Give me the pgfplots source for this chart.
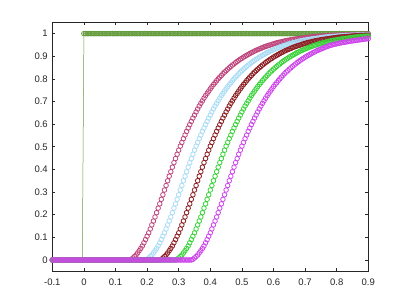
\documentclass[border=0pt]{standalone}
\usepackage{pgfplots}
\usepackage{pgfplotstable}
\pgfplotsset{compat=1.18}
\usepackage{fontspec}
\setmainfont{Liberation Sans}
\definecolor{axgray}{RGB}{38,38,38}
\definecolor{cstep}{RGB}{100,155,60}
\definecolor{cpink}{RGB}{190,70,125}
\definecolor{cblue}{RGB}{170,220,245}
\definecolor{cred}{RGB}{140,30,35}
\definecolor{cgreen}{RGB}{60,210,60}
\definecolor{cpurple}{RGB}{205,70,235}
\pgfplotstableread{
x g p b r n u
-0.100 0 0 0 0 0 0
-0.095 0 0 0 0 0 0
-0.090 0 0 0 0 0 0
-0.085 0 0 0 0 0 0
-0.080 0 0 0 0 0 0
-0.075 0 0 0 0 0 0
-0.070 0 0 0 0 0 0
-0.065 0 0 0 0 0 0
-0.060 0 0 0 0 0 0
-0.055 0 0 0 0 0 0
-0.050 0 0 0 0 0 0
-0.045 0 0 0 0 0 0
-0.040 0 0 0 0 0 0
-0.035 0 0 0 0 0 0
-0.030 0 0 0 0 0 0
-0.025 0 0 0 0 0 0
-0.020 0 0 0 0 0 0
-0.015 0 0 0 0 0 0
-0.010 0 0 0 0 0 0
-0.005 0 0 0 0 0 0
0.000 1 0 0 0 0 0
0.005 1 0 0 0 0 0
0.010 1 0 0 0 0 0
0.015 1 0 0 0 0 0
0.020 1 0 0 0 0 0
0.025 1 0 0 0 0 0
0.030 1 0 0 0 0 0
0.035 1 0 0 0 0 0
0.040 1 0 0 0 0 0
0.045 1 0 0 0 0 0
0.050 1 0 0 0 0 0
0.055 1 0 0 0 0 0
0.060 1 0 0 0 0 0
0.065 1 0 0 0 0 0
0.070 1 0 0 0 0 0
0.075 1 0 0 0 0 0
0.080 1 0 0 0 0 0
0.085 1 0 0 0 0 0
0.090 1 0 0 0 0 0
0.095 1 0 0 0 0 0
0.100 1 0 0 0 0 0
0.105 1 0 0 0 0 0
0.110 1 0 0 0 0 0
0.115 1 0 0 0 0 0
0.120 1 0 0 0 0 0
0.125 1 0 0 0 0 0
0.130 1 0 0 0 0 0
0.135 1 0 0 0 0 0
0.140 1 0 0 0 0 0
0.145 1 0 0 0 0 0
0.150 1 0.003 0 0 0 0
0.155 1 0.009 0 0 0 0
0.160 1 0.015 0 0 0 0
0.165 1 0.022 0 0 0 0
0.170 1 0.031 0 0 0 0
0.175 1 0.041 0 0 0 0
0.180 1 0.051 0 0 0 0
0.185 1 0.062 0 0 0 0
0.190 1 0.076 0 0 0 0
0.195 1 0.090 0 0 0 0
0.200 1 0.105 0.003 0 0 0
0.205 1 0.120 0.009 0 0 0
0.210 1 0.137 0.015 0 0 0
0.215 1 0.155 0.022 0 0 0
0.220 1 0.172 0.031 0 0 0
0.225 1 0.190 0.041 0 0 0
0.230 1 0.209 0.051 0 0 0
0.235 1 0.229 0.062 0 0 0
0.240 1 0.248 0.076 0 0 0
0.245 1 0.268 0.090 0.003 0 0
0.250 1 0.288 0.105 0.009 0 0
0.255 1 0.309 0.120 0.015 0 0
0.260 1 0.329 0.137 0.022 0 0
0.265 1 0.350 0.155 0.031 0 0
0.270 1 0.370 0.172 0.041 0 0
0.275 1 0.390 0.190 0.051 0 0
0.280 1 0.410 0.209 0.062 0 0
0.285 1 0.430 0.229 0.076 0 0
0.290 1 0.448 0.248 0.090 0 0
0.295 1 0.467 0.268 0.105 0.003 0
0.300 1 0.485 0.288 0.120 0.009 0
0.305 1 0.503 0.309 0.137 0.015 0
0.310 1 0.519 0.329 0.155 0.022 0
0.315 1 0.536 0.350 0.172 0.031 0
0.320 1 0.552 0.370 0.190 0.041 0
0.325 1 0.568 0.390 0.209 0.051 0
0.330 1 0.583 0.410 0.229 0.062 0
0.335 1 0.598 0.430 0.248 0.076 0
0.340 1 0.612 0.448 0.268 0.090 0
0.345 1 0.627 0.467 0.288 0.105 0.003
0.350 1 0.640 0.485 0.309 0.120 0.009
0.355 1 0.654 0.503 0.329 0.137 0.015
0.360 1 0.667 0.519 0.350 0.155 0.022
0.365 1 0.680 0.536 0.370 0.172 0.031
0.370 1 0.692 0.552 0.390 0.190 0.041
0.375 1 0.703 0.568 0.410 0.209 0.051
0.380 1 0.715 0.583 0.430 0.229 0.062
0.385 1 0.726 0.598 0.448 0.248 0.076
0.390 1 0.736 0.612 0.467 0.268 0.090
0.395 1 0.746 0.627 0.485 0.288 0.105
0.400 1 0.756 0.640 0.503 0.309 0.120
0.405 1 0.766 0.654 0.519 0.329 0.137
0.410 1 0.775 0.667 0.536 0.350 0.155
0.415 1 0.783 0.680 0.552 0.370 0.172
0.420 1 0.792 0.692 0.568 0.390 0.190
0.425 1 0.800 0.703 0.583 0.410 0.209
0.430 1 0.808 0.715 0.598 0.430 0.229
0.435 1 0.815 0.726 0.612 0.448 0.248
0.440 1 0.823 0.736 0.627 0.467 0.268
0.445 1 0.830 0.746 0.640 0.485 0.288
0.450 1 0.836 0.756 0.654 0.503 0.309
0.455 1 0.843 0.766 0.667 0.519 0.329
0.460 1 0.849 0.775 0.680 0.536 0.350
0.465 1 0.855 0.783 0.692 0.552 0.370
0.470 1 0.861 0.792 0.703 0.568 0.390
0.475 1 0.866 0.800 0.715 0.583 0.410
0.480 1 0.872 0.808 0.726 0.598 0.430
0.485 1 0.877 0.815 0.736 0.612 0.448
0.490 1 0.882 0.823 0.746 0.627 0.467
0.495 1 0.887 0.830 0.756 0.640 0.485
0.500 1 0.891 0.836 0.766 0.654 0.503
0.505 1 0.896 0.843 0.775 0.667 0.519
0.510 1 0.900 0.849 0.783 0.680 0.536
0.515 1 0.904 0.855 0.792 0.692 0.552
0.520 1 0.908 0.861 0.800 0.703 0.568
0.525 1 0.912 0.866 0.808 0.715 0.583
0.530 1 0.916 0.872 0.815 0.726 0.598
0.535 1 0.919 0.877 0.823 0.736 0.612
0.540 1 0.923 0.882 0.830 0.746 0.627
0.545 1 0.926 0.887 0.836 0.756 0.640
0.550 1 0.929 0.891 0.843 0.766 0.654
0.555 1 0.932 0.896 0.849 0.775 0.667
0.560 1 0.935 0.900 0.855 0.783 0.680
0.565 1 0.938 0.904 0.861 0.792 0.692
0.570 1 0.941 0.908 0.866 0.800 0.703
0.575 1 0.943 0.912 0.872 0.808 0.715
0.580 1 0.946 0.916 0.877 0.815 0.726
0.585 1 0.948 0.919 0.882 0.823 0.736
0.590 1 0.950 0.923 0.887 0.830 0.746
0.595 1 0.953 0.926 0.891 0.836 0.756
0.600 1 0.955 0.929 0.896 0.843 0.766
0.605 1 0.957 0.932 0.900 0.849 0.775
0.610 1 0.959 0.935 0.904 0.855 0.783
0.615 1 0.961 0.938 0.908 0.861 0.792
0.620 1 0.962 0.941 0.912 0.866 0.800
0.625 1 0.964 0.943 0.916 0.872 0.808
0.630 1 0.966 0.946 0.919 0.877 0.815
0.635 1 0.967 0.948 0.923 0.882 0.823
0.640 1 0.969 0.950 0.926 0.887 0.830
0.645 1 0.970 0.953 0.929 0.891 0.836
0.650 1 0.971 0.955 0.932 0.896 0.843
0.655 1 0.973 0.957 0.935 0.900 0.849
0.660 1 0.974 0.959 0.938 0.904 0.855
0.665 1 0.975 0.961 0.941 0.908 0.861
0.670 1 0.976 0.962 0.943 0.912 0.866
0.675 1 0.977 0.964 0.946 0.916 0.872
0.680 1 0.978 0.966 0.948 0.919 0.877
0.685 1 0.979 0.967 0.950 0.923 0.882
0.690 1 0.980 0.969 0.953 0.926 0.887
0.695 1 0.981 0.970 0.955 0.929 0.891
0.700 1 0.982 0.971 0.957 0.932 0.896
0.705 1 0.983 0.973 0.959 0.935 0.900
0.710 1 0.984 0.974 0.961 0.938 0.904
0.715 1 0.985 0.975 0.962 0.941 0.908
0.720 1 0.985 0.976 0.964 0.943 0.912
0.725 1 0.986 0.977 0.966 0.946 0.916
0.730 1 0.987 0.978 0.967 0.948 0.919
0.735 1 0.987 0.979 0.969 0.950 0.923
0.740 1 0.988 0.980 0.970 0.953 0.926
0.745 1 0.988 0.981 0.971 0.955 0.929
0.750 1 0.989 0.982 0.973 0.957 0.932
0.755 1 0.989 0.983 0.974 0.959 0.935
0.760 1 0.990 0.984 0.975 0.961 0.938
0.765 1 0.990 0.985 0.976 0.962 0.941
0.770 1 0.991 0.985 0.977 0.964 0.943
0.775 1 0.991 0.986 0.978 0.966 0.946
0.780 1 0.992 0.987 0.979 0.967 0.948
0.785 1 0.992 0.987 0.980 0.969 0.950
0.790 1 0.992 0.988 0.981 0.970 0.952
0.795 1 0.993 0.988 0.982 0.971 0.954
0.800 1 0.993 0.989 0.983 0.973 0.955
0.805 1 0.993 0.989 0.984 0.974 0.957
0.810 1 0.993 0.990 0.985 0.975 0.958
0.815 1 0.994 0.990 0.985 0.976 0.960
0.820 1 0.994 0.991 0.986 0.977 0.961
0.825 1 0.994 0.991 0.987 0.978 0.962
0.830 1 0.994 0.992 0.987 0.979 0.963
0.835 1 0.995 0.992 0.988 0.980 0.965
0.840 1 0.995 0.992 0.988 0.981 0.966
0.845 1 0.995 0.993 0.989 0.982 0.967
0.850 1 0.995 0.993 0.989 0.983 0.968
0.855 1 0.996 0.993 0.990 0.984 0.969
0.860 1 0.996 0.993 0.990 0.985 0.970
0.865 1 0.996 0.994 0.991 0.985 0.971
0.870 1 0.996 0.994 0.991 0.986 0.972
0.875 1 0.997 0.994 0.992 0.987 0.973
0.880 1 0.997 0.994 0.992 0.987 0.974
0.885 1 0.997 0.995 0.992 0.988 0.975
0.890 1 0.997 0.995 0.993 0.988 0.976
0.895 1 0.997 0.995 0.993 0.989 0.977
0.900 1 0.998 0.995 0.993 0.989 0.978
}\datatable
\begin{document}
\begin{tikzpicture}
\path[use as bounding box] (0,0) rectangle (407pt,305pt);
\begin{axis}[
  at={(52.3pt,33.7pt)}, anchor=south west,
  scale only axis, width=316pt, height=249pt,
  xmin=-0.1, xmax=0.9, ymin=-0.05, ymax=1.05,
  xtick={-0.1,0,0.1,0.2,0.3,0.4,0.5,0.6,0.7,0.8,0.9},
  xticklabels={-0.1,0,0.1,0.2,0.3,0.4,0.5,0.6,0.7,0.8,0.9},
  ytick={0,0.1,0.2,0.3,0.4,0.5,0.6,0.7,0.8,0.9,1},
  yticklabels={0,0.1,0.2,0.3,0.4,0.5,0.6,0.7,0.8,0.9,1},
  tick align=inside, major tick length=3pt,
  axis line style={axgray, line width=0.6pt},
  every tick/.style={axgray, line width=0.6pt},
  tick label style={font=\fontsize{9.5}{11}\selectfont, text=axgray},
  xticklabel style={yshift=-4pt},
  yticklabel style={xshift=-1pt},
  clip=true,
]
\addplot[color=cstep, line width=0.5pt, mark=o, mark size=2.3pt, mark options={line width=0.8pt}] table[x=x,y=g] {\datatable};
\addplot[only marks, color=cpink, mark=o, mark size=2.3pt, mark options={line width=0.8pt}] table[x=x,y=p] {\datatable};
\addplot[only marks, color=cblue, mark=o, mark size=2.3pt, mark options={line width=0.8pt}] table[x=x,y=b] {\datatable};
\addplot[only marks, color=cred, mark=o, mark size=2.3pt, mark options={line width=0.8pt}] table[x=x,y=r] {\datatable};
\addplot[only marks, color=cgreen, mark=o, mark size=2.3pt, mark options={line width=0.8pt}] table[x=x,y=n] {\datatable};
\addplot[only marks, color=cpurple, mark=o, mark size=2.3pt, mark options={line width=0.8pt}] table[x=x,y=u] {\datatable};
\end{axis}
\end{tikzpicture}
\end{document}
